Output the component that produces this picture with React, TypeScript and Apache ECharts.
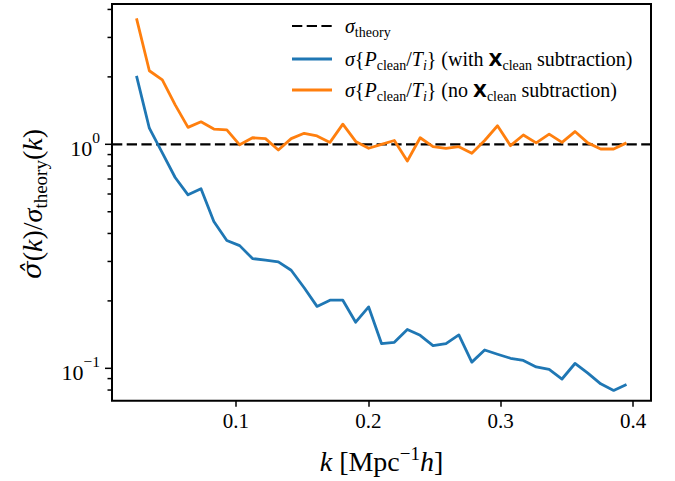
import React, { useEffect, useRef } from "react";
import * as echarts from "echarts";

// k bins [Mpc^-1 h]
const kValues = [
  0.025, 0.0347, 0.0445, 0.0542, 0.0639, 0.0737, 0.0834, 0.0932, 0.1029, 0.1126,
  0.1224, 0.1321, 0.1418, 0.1516, 0.1613, 0.1711, 0.1808, 0.1905, 0.2003, 0.21,
  0.2197, 0.2295, 0.2392, 0.2489, 0.2587, 0.2684, 0.2782, 0.2879, 0.2976, 0.3074,
  0.3171, 0.3268, 0.3366, 0.3463, 0.3561, 0.3658, 0.3755, 0.3853, 0.395,
];

// sigma{P_clean/T_i} (with X_clean subtraction) / sigma_theory
const sigmaWithSub = [
  2.02, 1.18, 0.915, 0.711, 0.595, 0.634, 0.452, 0.372, 0.353, 0.309,
  0.304, 0.2985, 0.274, 0.229, 0.189, 0.2015, 0.2015, 0.1607, 0.188, 0.129,
  0.1307, 0.149, 0.1404, 0.1263, 0.129, 0.141, 0.1066, 0.1207, 0.1156, 0.1109,
  0.1085, 0.1015, 0.0989, 0.0896, 0.1051, 0.0952, 0.0853, 0.0797, 0.0847,
];

// sigma{P_clean/T_i} (no X_clean subtraction) / sigma_theory
const sigmaNoSub = [
  3.65, 2.13, 1.94, 1.5, 1.19, 1.26, 1.17, 1.16, 0.995, 1.07,
  1.06, 0.943, 1.06, 1.12, 1.09, 1.02, 1.23, 1.03, 0.96, 1.0,
  1.04, 0.842, 1.07, 0.976, 0.96, 0.976, 0.912, 1.04, 1.21, 0.986,
  1.1, 1.015, 1.11, 1.02, 1.14, 1.015, 0.953, 0.953, 1.015,
];

const theoryLevel = 1;

const xTicks = [0.1, 0.2, 0.3, 0.4];
const yMajorTicks = [0.1, 1];
const yMinorTicks = [0.08, 0.09, 0.2, 0.3, 0.4, 0.5, 0.6, 0.7, 0.8, 0.9, 2, 3, 4];

const X_MIN = 0.0065;
const X_MAX = 0.4135;
const Y_MIN = 0.0717;
const Y_MAX = 4.23;

const SERIF = '"Liberation Serif", "DejaVu Serif", serif';
const SANS = '"DejaVu Sans", "Liberation Sans", sans-serif';

const LEG = 20;
const legendRich: any = {
  it: { fontFamily: SERIF, fontStyle: "italic", fontSize: LEG, lineHeight: 26, fill: "#000" },
  rm: { fontFamily: SERIF, fontSize: LEG, lineHeight: 26, fill: "#000" },
  sub: { fontFamily: SERIF, fontSize: 14, verticalAlign: "bottom", fill: "#000" },
  subit: { fontFamily: SERIF, fontStyle: "italic", fontSize: 14, verticalAlign: "bottom", fill: "#000" },
  bf: { fontFamily: SANS, fontWeight: "bold", fontSize: 18, lineHeight: 26, fill: "#000" },
};

const legendEntries = [
  { color: "#000", dash: [10.3, 4.4], text: "{it|σ}{sub|theory}" },
  {
    color: "#1f77b4",
    dash: null,
    text: "{it|σ}{rm|{}{it|P}{sub|clean}{rm|/}{it|T}{subit|i}} (with {bf|X}{sub|clean} subtraction)",
  },
  {
    color: "#ff7f0e",
    dash: null,
    text: "{it|σ}{rm|{}{it|P}{sub|clean}{rm|/}{it|T}{subit|i}} (no {bf|X}{sub|clean} subtraction)",
  },
];

export default function App() {
  const ref = useRef<HTMLDivElement>(null);

  useEffect(() => {
    if (!ref.current) return;
    const chart = echarts.init(ref.current, null, { renderer: "svg" });

    const tickData = [
      ...yMajorTicks.map((v) => [X_MIN, v, 1]),
      ...yMinorTicks.map((v) => [X_MIN, v, 0]),
    ];

    const legendY = [26, 59, 90];
    const legendGraphics: any[] = [];
    legendEntries.forEach((e, i) => {
      legendGraphics.push({
        type: "line",
        shape: { x1: 292, y1: legendY[i], x2: 332, y2: legendY[i] },
        style: { stroke: e.color, lineWidth: e.dash ? 2.2 : 2.8, lineDash: e.dash || undefined },
        silent: true,
      });
      legendGraphics.push({
        type: "text",
        x: 345,
        y: legendY[i],
        style: {
          text: e.text,
          rich: legendRich,
          fontFamily: SERIF,
          fontSize: LEG,
          lineHeight: 26,
          fill: "#000",
          verticalAlign: "middle",
          align: "left",
        },
        silent: true,
      });
    });

    const AX = 28;
    const labelRich: any = {
      it: { fontFamily: SERIF, fontStyle: "italic", fontSize: AX, lineHeight: 35, fill: "#000" },
      hat: { fontFamily: '"DejaVu Serif", serif', fontStyle: "italic", fontSize: AX - 2, lineHeight: 35, fill: "#000" },
      rm: { fontFamily: SERIF, fontSize: AX, lineHeight: 35, fill: "#000" },
      sub: { fontFamily: SERIF, fontSize: 19, verticalAlign: "bottom", fill: "#000" },
      sup: { fontFamily: SERIF, fontSize: 19, verticalAlign: "top", fill: "#000" },
    };

    const option: any = {
      animation: false,
      backgroundColor: "#fff",
      grid: {
        left: 112,
        right: 24,
        top: 4,
        bottom: 80.3,
        show: true,
        borderColor: "#000",
        borderWidth: 2,
        backgroundColor: "transparent",
      },
      xAxis: {
        type: "value",
        min: X_MIN,
        max: X_MAX,
        splitLine: { show: false },
        axisLine: { show: false },
        axisTick: {
          show: true,
          customValues: xTicks,
          length: 6,
          lineStyle: { color: "#000", width: 1.5 },
        },
        axisLabel: {
          customValues: xTicks,
          formatter: (v: number) => v.toFixed(1),
          color: "#000",
          fontFamily: SERIF,
          fontSize: 21,
          margin: 10,
        },
      },
      yAxis: {
        type: "log",
        logBase: 10,
        min: Y_MIN,
        max: Y_MAX,
        splitLine: { show: false },
        axisLine: { show: false },
        axisTick: { show: false },
        minorTick: { show: false },
        axisLabel: {
          showMinLabel: false,
          showMaxLabel: false,
          margin: 12,
          formatter: (v: number) => {
            const e = Math.log10(v);
            const r = Math.round(e);
            if (Math.abs(e - r) > 1e-6) return "";
            return `{b|10}{s|${r < 0 ? "−" + -r : r}}`;
          },
          rich: {
            b: { fontFamily: SERIF, fontSize: 22, lineHeight: 30, verticalAlign: "bottom", color: "#000" },
            s: { fontFamily: SERIF, fontSize: 15.5, verticalAlign: "top", color: "#000" },
          },
        },
      },
      series: [
        {
          name: "theory",
          type: "line",
          data: [
            [X_MIN, theoryLevel],
            [X_MAX, theoryLevel],
          ],
          symbol: "none",
          lineStyle: { color: "#000", width: 2.2, type: [10.3, 4.4] },
          silent: true,
        },
        {
          name: "with",
          type: "line",
          data: kValues.map((k, i) => [k, sigmaWithSub[i]]),
          symbol: "none",
          lineStyle: { color: "#1f77b4", width: 2.8, join: "round" },
          silent: true,
        },
        {
          name: "no",
          type: "line",
          data: kValues.map((k, i) => [k, sigmaNoSub[i]]),
          symbol: "none",
          lineStyle: { color: "#ff7f0e", width: 2.8, join: "round" },
          silent: true,
        },
        {
          name: "yticks",
          type: "custom",
          clip: false,
          silent: true,
          data: tickData,
          renderItem: (params: any, api: any) => {
            const p = api.coord([api.value(0), api.value(1)]);
            const len = api.value(2) ? 6 : 3.5;
            return {
              type: "line",
              shape: { x1: p[0] - 1 - len, y1: p[1], x2: p[0] - 1, y2: p[1] },
              style: { stroke: "#000", lineWidth: 1.5 },
            };
          },
        },
      ],
      graphic: [
        ...legendGraphics,
        {
          type: "text",
          x: 381.5,
          y: 461,
          style: {
            text: "{it|k}{rm| [Mpc}{sup|−1}{it|h}{rm|]}",
            rich: labelRich,
            align: "center",
            verticalAlign: "middle",
          },
          silent: true,
        },
        {
          type: "text",
          x: 32,
          y: 204,
          rotation: Math.PI / 2,
          style: {
            text: "{hat|σ̂}{rm|(}{it|k}{rm|)/}{it|σ}{sub|theory}{rm|(}{it|k}{rm|)}",
            rich: labelRich,
            align: "center",
            verticalAlign: "middle",
          },
          silent: true,
        },
      ],
    };

    chart.setOption(option);
    return () => chart.dispose();
  }, []);

  return (
    <div
      ref={ref}
      style={{ position: "absolute", left: 0, top: 0, width: 675, height: 481 }}
    />
  );
}
